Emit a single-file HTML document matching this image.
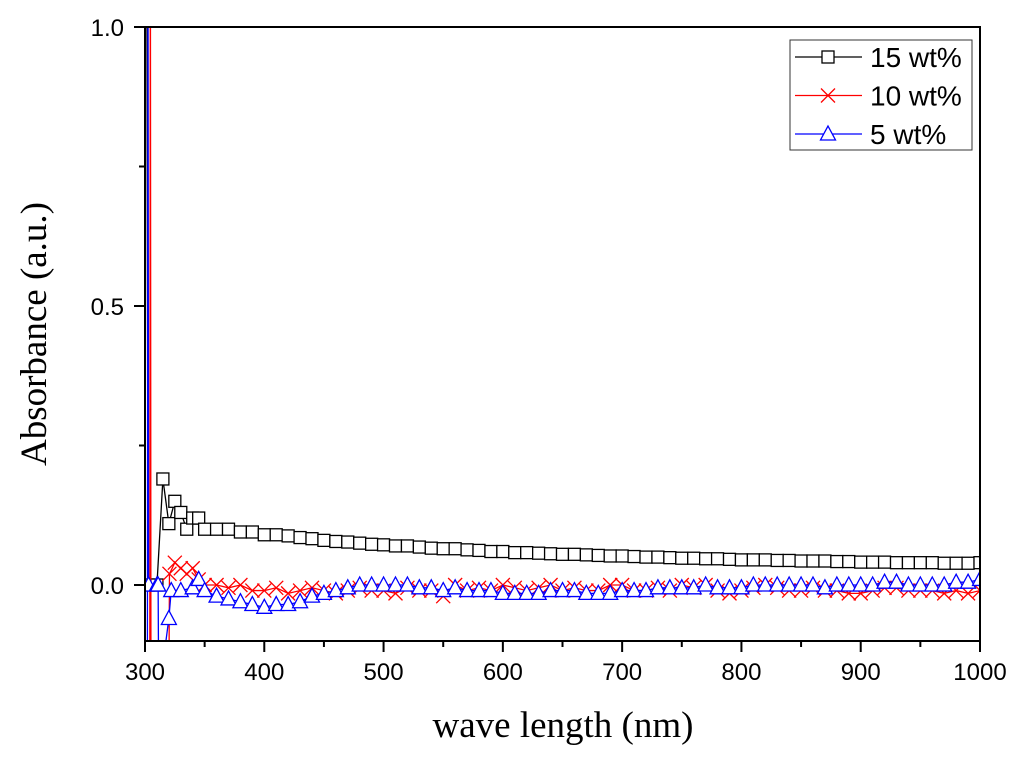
<!DOCTYPE html>
<html><head><meta charset="utf-8"><style>
body{margin:0;background:#fff;width:1024px;height:762px;overflow:hidden}
svg{display:block}
</style></head><body>
<svg id="chart" width="1024" height="762" xmlns="http://www.w3.org/2000/svg">
<defs><clipPath id="clip"><rect x="145" y="27" width="835" height="614"/></clipPath></defs>
<g id="series" clip-path="url(#clip)"></g>
<rect x="145" y="27" width="835" height="614" fill="none" stroke="#000" stroke-width="2"/>
<g id="axes"></g>
<text x="563" y="737" font-family="Liberation Serif, serif" font-size="37" text-anchor="middle">wave length (nm)</text>
<text transform="translate(46,334) rotate(-90)" font-family="Liberation Serif, serif" font-size="37" text-anchor="middle">Absorbance (a.u.)</text>
<g>
<rect x="790" y="40" width="182" height="110" fill="#fff" stroke="#333" stroke-width="1"/>
<g id="legend-items"></g>
</g>
</svg>
<script>
const xTicks=[300,400,500,600,700,800,900,1000];
const yTicks=[0.0,0.5,1.0];
const yTickLabels=["0.0","0.5","1.0"];
const seriesNames=["15 wt%","10 wt%","5 wt%"];
const wl15=[301.5,302.5,310,315,320,325,330,335,340,345,350,360,370,380,390,400,410,420,430,440,450,460,470,480,490,500,510,520,530,540,550,560,570,580,590,600,610,620,630,640,650,660,670,680,690,700,710,720,730,740,750,760,770,780,790,800,810,820,830,840,850,860,870,880,890,900,910,920,930,940,950,960,970,980,990,1000];
const v15=[1.2,0.0,0.0,0.19,0.11,0.15,0.13,0.10,0.12,0.12,0.10,0.10,0.10,0.095,0.095,0.09,0.09,0.088,0.085,0.083,0.08,0.078,0.077,0.075,0.073,0.072,0.07,0.07,0.068,0.066,0.065,0.065,0.063,0.062,0.06,0.06,0.058,0.058,0.057,0.056,0.055,0.055,0.054,0.053,0.052,0.052,0.051,0.05,0.05,0.049,0.048,0.048,0.047,0.047,0.046,0.045,0.045,0.045,0.044,0.044,0.043,0.043,0.043,0.042,0.042,0.041,0.041,0.041,0.04,0.04,0.04,0.04,0.039,0.039,0.039,0.04];
const wl10=[304,304.5,305,320,320.5,325,330,335,340,345,350,360,370,380,390,400,410,420,430,440,450,460,470,480,490,500,510,520,530,540,550,560,570,580,590,600,610,620,630,640,650,660,670,680,690,700,710,720,730,740,750,760,770,780,790,800,810,820,830,840,850,860,870,880,890,900,910,920,930,940,950,960,970,980,990,1000];
const v10=[-0.2,1.2,-0.2,-0.2,0.02,0.04,0.03,0.02,0.03,0.01,0.0,0.0,-0.005,0.0,-0.01,-0.01,-0.005,-0.015,-0.01,-0.005,-0.01,-0.015,-0.01,-0.005,-0.01,-0.01,-0.015,-0.005,-0.01,-0.01,-0.02,0.0,-0.01,-0.005,-0.01,0.0,-0.005,-0.01,-0.005,0.0,-0.01,-0.005,-0.01,-0.01,0.0,0.0,-0.01,-0.01,-0.005,-0.01,0.0,-0.005,0.0,-0.01,-0.015,-0.01,-0.005,0.0,-0.005,-0.01,-0.01,-0.005,-0.01,-0.01,-0.015,-0.015,-0.01,-0.005,-0.005,-0.01,-0.01,-0.01,-0.015,-0.01,-0.015,-0.01];
const wl5=[302,302.5,303,310,311,311.5,320,322,330,340,345,350,360,370,380,390,400,410,420,430,440,450,460,470,480,490,500,510,520,530,540,550,560,570,580,590,600,610,620,630,640,650,660,670,680,690,700,710,720,730,740,750,760,770,780,790,800,810,820,830,840,850,860,870,880,890,900,910,920,930,940,950,960,970,980,990,1000];
const v5=[-0.2,1.2,0.0,0.0,0.0,-0.2,-0.06,-0.01,-0.01,-0.005,0.01,-0.01,-0.02,-0.025,-0.03,-0.035,-0.04,-0.035,-0.035,-0.03,-0.02,-0.015,-0.01,-0.005,0.0,0.0,0.0,0.0,0.0,-0.005,-0.005,-0.01,-0.005,-0.01,-0.01,-0.01,-0.015,-0.015,-0.015,-0.015,-0.01,-0.01,-0.01,-0.015,-0.015,-0.015,-0.01,-0.01,-0.01,-0.005,-0.005,-0.005,-0.005,0.0,-0.005,-0.005,-0.005,0.0,0.0,0.0,0.0,0.0,0.0,-0.005,0.0,0.0,0.0,0.0,0.005,0.005,0.0,0.0,0.0,0.0,0.005,0.005,0.01];
const NS="http://www.w3.org/2000/svg";
const X=v=>145+(v-300)*835/700;
const Y=v=>585-v*558;
function mk(t,a,p){const e=document.createElementNS(NS,t);for(const k in a)e.setAttribute(k,a[k]);p.appendChild(e);return e;}
const ax=document.getElementById('axes');
xTicks.forEach(t=>{const l=mk('line',{x1:X(t),x2:X(t),y1:641,y2:652,stroke:'#000','stroke-width':2},ax);


const tx=mk('text',{x:X(t),y:680,'font-family':'Liberation Sans, sans-serif','font-size':24,'text-anchor':'middle'},ax);tx.textContent=t;

});
for(let t=350;t<1000;t+=100){const l=mk('line',{x1:X(t),x2:X(t),y1:641,y2:647,stroke:'#000','stroke-width':2},ax);

}
yTicks.forEach((t,i)=>{const l=mk('line',{x1:134,x2:145,y1:Y(t),y2:Y(t),stroke:'#000','stroke-width':2},ax);


const tx=mk('text',{x:124,y:Y(t)+9,'font-family':'Liberation Sans, sans-serif','font-size':24,'text-anchor':'end'},ax);tx.textContent=yTickLabels[i];

});
[0.25,0.75].forEach(t=>{const l=mk('line',{x1:139,x2:145,y1:Y(t),y2:Y(t),stroke:'#000','stroke-width':2},ax);

});
function marker(type,x,y,c,p){
 if(type==0)return mk('rect',{x:x-6,y:y-6,width:12,height:12,fill:'#fff',stroke:c,'stroke-width':1.3},p);
 if(type==1)return mk('path',{d:`M${x-7} ${y-7}L${x+7} ${y+7}M${x-7} ${y+7}L${x+7} ${y-7}`,stroke:c,'stroke-width':1.3,fill:'none'},p);
 return mk('path',{d:`M${x} ${y-8}L${x+7.5} ${y+6}L${x-7.5} ${y+6}Z`,fill:'#fff',stroke:c,'stroke-width':1.3},p);
}
const sg=document.getElementById('series');
const colors=['#000','#f00','#00f'];
[[wl15,v15],[wl10,v10],[wl5,v5]].forEach(([w,v],si)=>{
 const g=mk('g',{},sg);
 
 
 const ln=mk('polyline',{points:w.map((x,i)=>X(x)+','+Y(v[i])).join(' '),fill:'none',stroke:colors[si],'stroke-width':1.3},g);
 
 
 w.forEach((x,i)=>{if(v[i]>1.1||v[i]<-0.15)return;const m=marker(si,X(x),Y(v[i]),colors[si],g);
 
 });
});
const lg=document.getElementById('legend-items');
seriesNames.forEach((n,i)=>{const y=57+i*38.5;
 const g=mk('g',{},lg);
 
 
 mk('line',{x1:795,x2:862,y1:y,y2:y,stroke:colors[i],'stroke-width':1.3},g);
 marker(i,828,y,colors[i],g);
 const t=mk('text',{x:870,y:y+10,'font-family':'Liberation Sans, sans-serif','font-size':28},g);t.textContent=n;});
</script>
</body></html>
